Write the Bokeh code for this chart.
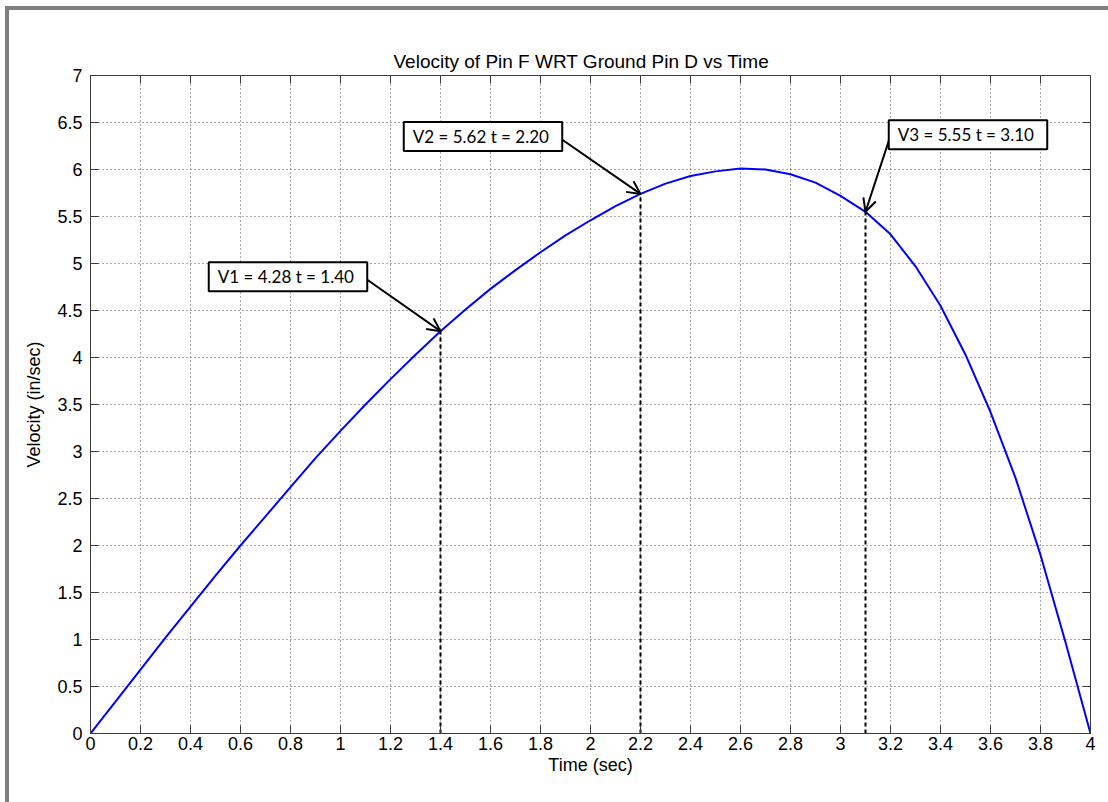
import numpy as np
from bokeh.plotting import figure
from bokeh.layouts import column, row
from bokeh.models import (Label, Arrow, OpenHead, FixedTicker, Range1d,
                          ColumnDataSource, Div)
from bokeh.embed import file_html
from bokeh.resources import INLINE

# ---- data ----
time_s = [0.0, 0.1, 0.2, 0.3, 0.4, 0.5, 0.6, 0.7, 0.8, 0.9, 1.0, 1.1, 1.2, 1.3,
          1.4, 1.5, 1.6, 1.7, 1.8, 1.9, 2.0, 2.1, 2.2, 2.3, 2.4, 2.5, 2.6, 2.7,
          2.8, 2.9, 3.0, 3.1, 3.2, 3.3, 3.4, 3.5, 3.6, 3.7, 3.8, 3.9, 4.0]
velocity = [0.0, 0.34, 0.68, 1.02, 1.35, 1.68, 2.0, 2.31, 2.62, 2.93, 3.22,
            3.5, 3.77, 4.03, 4.28, 4.51, 4.73, 4.93, 5.12, 5.3, 5.46, 5.61,
            5.74, 5.85, 5.93, 5.98, 6.01, 6.0, 5.95, 5.86, 5.72, 5.55, 5.31,
            4.97, 4.55, 4.03, 3.42, 2.72, 1.9, 0.97, 0.0]

x_ticks = [0, 0.2, 0.4, 0.6, 0.8, 1.0, 1.2, 1.4, 1.6, 1.8, 2.0, 2.2, 2.4, 2.6,
           2.8, 3.0, 3.2, 3.4, 3.6, 3.8, 4.0]
x_tick_labels = ["0", "0.2", "0.4", "0.6", "0.8", "1", "1.2", "1.4", "1.6",
                 "1.8", "2", "2.2", "2.4", "2.6", "2.8", "3", "3.2", "3.4",
                 "3.6", "3.8", "4"]
y_ticks = [0, 0.5, 1.0, 1.5, 2.0, 2.5, 3.0, 3.5, 4.0, 4.5, 5.0, 5.5, 6.0, 6.5, 7.0]
y_tick_labels = ["0", "0.5", "1", "1.5", "2", "2.5", "3", "3.5", "4", "4.5",
                 "5", "5.5", "6", "6.5", "7"]

marker_t = [1.4, 2.2, 3.1]
marker_text = ["V1 = 4.28  t = 1.40", "V2 = 5.62  t = 2.20", "V3 = 5.55  t = 3.10"]
label_t = [0.79, 1.57, 3.51]
label_v = [4.86, 6.35, 6.37]
arrow_start_t = [1.10, 1.88, 3.20]
arrow_start_v = [4.84, 6.33, 6.36]

title_text = "Velocity of Pin F WRT Ground Pin D vs Time"
x_label = "Time (sec)"
y_label = "Velocity (in/sec)"

X0, X1, Y0, Y1 = 0, 4, 0, 7

# ---- figure ----
AX_FONT = "Liberation Sans"
FRAME_W, FRAME_H = 1000, 658
fig = figure(width=1099, height=792, output_backend="svg", toolbar_location=None,
             x_range=Range1d(X0, X1), y_range=Range1d(Y0, Y1),
             min_border_left=81, min_border_right=18, min_border_top=65,
             min_border_bottom=69, background_fill_color="white",
             border_fill_color="white", title=title_text, margin=0)

fig.title.align = "left"
fig.title.offset = 303
fig.title.text_font = AX_FONT
fig.title.text_font_size = "19px"
fig.title.text_font_style = "normal"
fig.title.text_color = "black"
fig.title.standoff = 7

fig.outline_line_color = "#3c3c3c"
fig.outline_line_width = 1

for ax, ticks, labels, lab in ((fig.xaxis[0], x_ticks, x_tick_labels, x_label),
                               (fig.yaxis[0], y_ticks, y_tick_labels, y_label)):
    ax.ticker = FixedTicker(ticks=ticks)
    ax.major_label_overrides = {t: l for t, l in zip(ticks, labels)}
    ax.axis_label = lab
    ax.axis_label_text_font = AX_FONT
    ax.axis_label_text_font_size = "18px"
    ax.axis_label_text_font_style = "normal"
    ax.axis_label_text_color = "black"
    ax.major_label_text_font = AX_FONT
    ax.major_label_text_font_size = "18px"
    ax.major_label_text_color = "black"
    ax.major_tick_in = 8
    ax.major_tick_out = 0
    ax.minor_tick_in = 0
    ax.minor_tick_out = 0
    ax.axis_line_color = "#3c3c3c"
    ax.major_tick_line_color = "#3c3c3c"
fig.xaxis[0].major_label_standoff = 3
fig.xaxis[0].axis_label_standoff = 2
fig.yaxis[0].major_label_standoff = 8
fig.yaxis[0].axis_label_standoff = 10

for g in (fig.xgrid[0], fig.ygrid[0]):
    g.grid_line_color = "#404040"
    g.grid_line_dash = "1 3"
    g.grid_line_width = 1
    g.grid_line_alpha = 0.9

# inward ticks on the top and right edges (MATLAB box style)
tick_px = 8
dy = tick_px * (Y1 - Y0) / FRAME_H
dx = tick_px * (X1 - X0) / FRAME_W
fig.segment(x0=x_ticks, y0=[Y1] * len(x_ticks), x1=x_ticks, y1=[Y1 - dy] * len(x_ticks),
            line_color="#3c3c3c", line_width=1)
fig.segment(x0=[X1] * len(y_ticks), y0=y_ticks, x1=[X1 - dx] * len(y_ticks), y1=y_ticks,
            line_color="#3c3c3c", line_width=1)

# curve
fig.line(time_s, velocity, line_color="#0000ff", line_width=2)

# dashed verticals
marker_v = list(np.interp(marker_t, time_s, velocity))
fig.segment(x0=marker_t, y0=[0] * len(marker_t), x1=marker_t, y1=marker_v,
            line_color="black", line_width=2, line_dash="4 3")

# arrows
asrc = ColumnDataSource(dict(xs=arrow_start_t, ys=arrow_start_v,
                             xe=marker_t, ye=marker_v))
fig.add_layout(Arrow(end=OpenHead(size=13, line_width=2, line_color="black"),
                     x_start="xs", y_start="ys", x_end="xe", y_end="ye",
                     line_width=2, line_color="black", source=asrc))

# annotation boxes
for t, v, txt in zip(label_t, label_v, marker_text):
    fig.add_layout(Label(x=t, y=v, text=txt, text_align="center",
                         text_baseline="middle", text_font="Lato",
                         text_font_size="17px", text_color="black",
                         background_fill_color="white", background_fill_alpha=1.0,
                         border_line_color="black", border_line_width=2,
                         padding=(9, 4)))

# grey page edge on the left and top, as plain coloured blocks
GREY = {"background-color": "#7f7f7f"}
top_bar = Div(text="", width=1103, height=4, margin=(6, 0, 0, 5), styles=GREY)
left_bar = Div(text="", width=4, height=792, margin=(0, 0, 0, 5), styles=GREY)
p = column(top_bar, row(left_bar, fig, spacing=0), spacing=0)

open("out.html", "w").write(file_html(p, INLINE))
